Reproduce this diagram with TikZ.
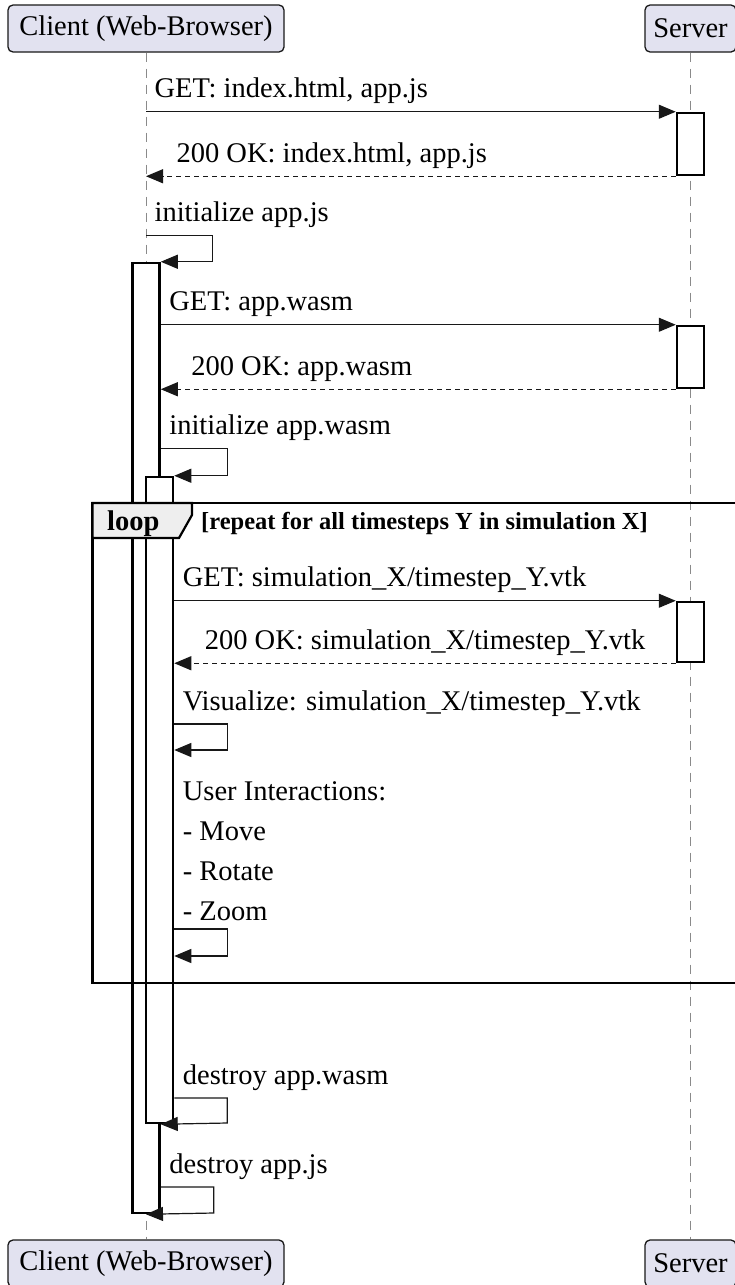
\documentclass[tikz,border=0pt]{standalone}
\usepackage{fontspec}
\setmainfont{Liberation Serif}
\usepackage{tikz}
\usetikzlibrary{arrows.meta,positioning,calc}
\definecolor{partfill}{HTML}{E2E2F0}
\definecolor{partline}{HTML}{181818}
\definecolor{tabfill}{HTML}{EEEEEE}
\definecolor{lifegray}{HTML}{8A8A8A}
\tikzset{
  participant/.style={draw=partline, line width=1.3pt, rounded corners=5pt, fill=partfill, inner sep=0pt, minimum height=47pt},
  activation/.style={draw=black, line width=2.5pt, fill=white, inner sep=0pt, minimum width=27pt},
  lifeline/.style={draw=lifegray, line width=1pt, dash pattern=on 9pt off 7pt},
  msg/.style={-{Triangle[length=17pt,width=14pt]}, line width=1.2pt, draw=partline},
  reply/.style={msg, dash pattern=on 5pt off 4pt},
  lbl/.style={anchor=base west, inner sep=0pt, xshift=8pt, yshift=14pt},
  replylbl/.style={anchor=base west, inner sep=0pt, xshift=30pt, yshift=14pt},
  frame/.style={draw=black, line width=2.2pt},
  looptab/.style={draw=black, line width=2.2pt, fill=tabfill},
  looptext/.style={anchor=base west, inner sep=0pt}
}

\begin{document}
\begin{tikzpicture}[x=1pt, y=-1pt, font=\fontsize{28.5}{40}\selectfont]
  \useasboundingbox (0,0) rectangle (735,1285);

  \node[participant, minimum width=276pt] (client) at (146,28.5) {Client (Web-Browser)};
  \node[participant, minimum width=91pt] (server) at (690.5,28.5) {Server};
  \node[participant, minimum width=276pt] (clientend) at (146,1263.5) {Client (Web-Browser)};
  \node[participant, minimum width=91pt] (serverend) at (690.5,1263.5) {Server};

  \foreach \p in {client,server} {
    \draw[lifeline] (\p.south) -- (\p end.north);
  }

  \node[activation, minimum height=950pt] (ca1) at (146,738) {};
  \node[activation, minimum height=646pt] (ca2) at (159.5,800) {};
  \node[activation, minimum height=62pt] (sa1) at (690.5,144) {};
  \node[activation, minimum height=62pt] (sa2) at (690.5,357) {};
  \node[activation, minimum height=60pt] (sa3) at (690.5,632) {};

  \coordinate (visrow) at (0,724);
  \coordinate (userrow) at (0,929);
  \coordinate (dwrow) at (0,1098);
  \coordinate (djrow) at (0,1187);

  \draw[msg] (client.south |- sa1.north) node[lbl] {GET: index.html, app.js} -- (sa1.north west);
  \draw[reply] (sa1.south west) -- (client.south |- sa1.south) node[replylbl] {200 OK: index.html, app.js};
  \draw[msg] ($(client.south |- ca1.north)+(0,-26)$) node[lbl] {initialize app.js} -- ++(66.5,0) -- ++(0,26) -- (ca1.north east);

  \draw[msg] (ca1.east |- sa2.north) node[lbl] {GET: app.wasm} -- (sa2.north west);
  \draw[reply] (sa2.south west) -- (ca1.east |- sa2.south) node[replylbl] {200 OK: app.wasm};
  \draw[msg] ($(ca1.east |- ca2.north)+(0,-27)$) node[lbl] {initialize app.wasm} -- ++(66.5,0) -- ++(0,27) -- (ca2.north east);

  \draw[frame] (92.5,503) rectangle (740,983);
  \draw[looptab] (92.5,503) -- (192,503) -- (192,515) -- (179,538) -- (92.5,538) -- cycle;
  \node[looptext, font=\bfseries\fontsize{28.5}{40}\selectfont] (looplbl) at (107,530) {loop};
  \node[looptext, font=\bfseries\fontsize{24.5}{28}\selectfont] (loopcond) at (201,529) {[repeat for all timesteps Y in simulation X]};

  \draw[msg] (ca2.east |- sa3.north) node[lbl] {GET: simulation\_X/timestep\_Y.vtk} -- (sa3.north west);
  \draw[reply] (sa3.south west) -- (ca2.east |- sa3.south) node[replylbl] {200 OK: simulation\_X/timestep\_Y.vtk};
  \draw[msg] (ca2.east |- visrow) node[lbl] {Visualize: simulation\_X/timestep\_Y.vtk} -- ++(53,0) -- ++(0,26) -- ($(ca2.east |- visrow)+(0,26)$);
  \draw[msg] (ca2.east |- userrow) node[lbl, anchor=south west, align=left, yshift=-6pt] {User Interactions:\\- Move\\- Rotate\\- Zoom} -- ++(53,0) -- ++(0,27) -- ($(ca2.east |- userrow)+(0,27)$);

  \draw[msg] (ca2.east |- dwrow) node[lbl] {destroy app.wasm} -- ++(53,0) -- ++(0,25) -- (ca1.east |- ca2.south);
  \draw[msg] (ca1.east |- djrow) node[lbl] {destroy app.js} -- ++(53,0) -- ++(0,26) -- (client.south |- ca1.south);
\end{tikzpicture}
\end{document}
